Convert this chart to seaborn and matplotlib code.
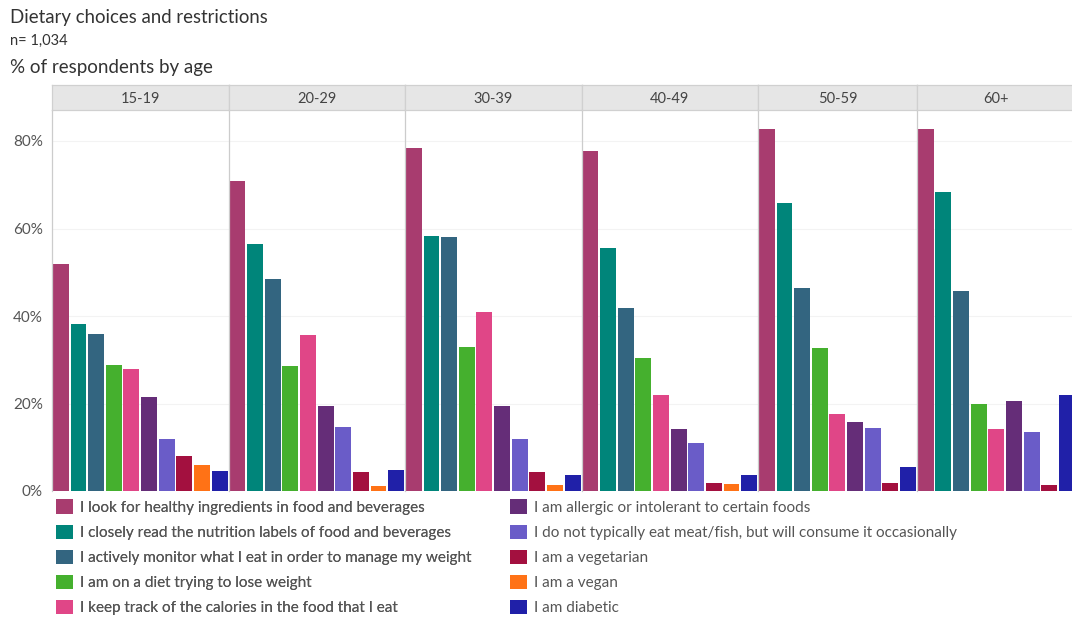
import matplotlib
matplotlib.use("Agg")
import matplotlib.pyplot as plt
import seaborn as sns
import pandas as pd
from matplotlib.patches import Patch

sns.set_style("white")
plt.rcParams['font.family'] = ['Lato', 'DejaVu Sans']

ages = ["15-19", "20-29", "30-39", "40-49", "50-59", "60+"]
items = [
    "I look for healthy ingredients in food and beverages",
    "I closely read the nutrition labels of food and beverages",
    "I actively monitor what I eat in order to manage my weight",
    "I am on a diet trying to lose weight",
    "I keep track of the calories in the food that I eat",
    "I am allergic or intolerant to certain foods",
    "I do not typically eat meat/fish, but will consume it occasionally",
    "I am a vegetarian",
    "I am a vegan",
    "I am diabetic",
]
colors = ["#a83c6f", "#00857a", "#336580", "#45b02e", "#e04687",
          "#652d78", "#6a5cc8", "#a3103f", "#ff7216", "#2020a8"]

healthy = [52.0, 70.9, 78.3, 77.8, 82.8, 82.8]
labels_read = [38.1, 56.5, 58.3, 55.6, 65.8, 68.3]
monitor = [35.9, 48.5, 58.0, 41.8, 46.3, 45.8]
diet = [28.8, 28.6, 33.0, 30.5, 32.8, 20.0]
calories = [27.9, 35.6, 41.0, 22.0, 17.5, 14.1]
allergic = [21.4, 19.4, 19.5, 14.1, 15.8, 20.6]
flexitarian = [11.8, 14.6, 11.8, 11.0, 14.3, 13.6]
vegetarian = [8.1, 4.4, 4.4, 1.9, 1.9, 1.3]
vegan = [5.9, 1.1, 1.4, 1.7, None, None]
diabetic = [4.5, 4.8, 3.7, 3.7, 5.6, 22.0]

series = [healthy, labels_read, monitor, diet, calories, allergic,
          flexitarian, vegetarian, vegan, diabetic]

rows = []
for item, vals in zip(items, series):
    for age, v in zip(ages, vals):
        if v is not None:
            rows.append({"age": age, "item": item, "value": v})
df = pd.DataFrame(rows)
palette = dict(zip(items, colors))

W, H = 1072, 619
fig = plt.figure(figsize=(W / 100, H / 100), dpi=100)

slot = 17.65
x0 = 52
plot_top, plot_bot, head_top = 110, 491, 85
ymax = (plot_bot - plot_top) / 4.375

for i, age in enumerate(ages):
    sub = df[df["age"] == age]
    present = [it for it in items if it in set(sub["item"])]
    n = len(present)
    wpx = n * slot
    ax = fig.add_axes([x0 / W, 1 - plot_bot / H, wpx / W, (plot_bot - plot_top) / H])
    sns.barplot(data=sub, x="item", y="value", hue="item", order=present,
                hue_order=present, palette=palette, dodge=False, legend=False,
                width=0.9, saturation=1, ax=ax, linewidth=0, errorbar=None)
    ax.set_xlim(-0.5, n - 0.5)
    ax.set_ylim(0, ymax)
    ax.set_xticks([])
    ax.set_xlabel("")
    ax.set_ylabel("")
    ax.set_yticks([0, 20, 40, 60, 80])
    if i == 0:
        ax.set_yticklabels(["0%", "20%", "40%", "60%", "80%"], fontsize=11, color="#555555")
    else:
        ax.set_yticklabels([])
    ax.tick_params(axis="y", length=0, pad=6.5)
    ax.yaxis.grid(True, color="#f3f3f3", linewidth=0.8)
    ax.set_axisbelow(True)
    for s in ["top", "bottom", "right"]:
        ax.spines[s].set_visible(False)
    ax.spines["left"].set_color("#cccccc")
    ax.spines["left"].set_linewidth(0.9)

    hax = fig.add_axes([x0 / W, 1 - plot_top / H, wpx / W, (plot_top - head_top) / H])
    hax.set_facecolor("#e6e6e6")
    hax.set_xticks([])
    hax.set_yticks([])
    for s in hax.spines.values():
        s.set_color("#d0d0d0")
        s.set_linewidth(0.9)
    hax.text(0.5, 0.45, age, ha="center", va="center", fontsize=10.5,
             color="#444444", transform=hax.transAxes)
    x0 += wpx

fig.text(10 / W, 1 - 18 / H, "Dietary choices and restrictions", fontsize=13.4,
         color="#333333", va="center", ha="left")
fig.text(10 / W, 1 - 41 / H, "n= 1,034", fontsize=10.5, color="#333333",
         va="center", ha="left")
fig.text(10 / W, 1 - 68 / H, "% of respondents by age", fontsize=13.5,
         color="#333333", va="center", ha="left")

handles = [Patch(facecolor=c, edgecolor="none") for c in colors]
common = dict(frameon=False, fontsize=11, handlelength=1.1, handleheight=1.1,
              handletextpad=0.45, labelspacing=0.62, borderaxespad=0, borderpad=0,
              loc="upper left", labelcolor="#555555")
leg1 = fig.legend(handles[:5], items[:5], bbox_to_anchor=(56 / W, 1 - 499.5 / H), **common)
fig.add_artist(leg1)
fig.legend(handles[5:], items[5:], bbox_to_anchor=(510 / W, 1 - 499.5 / H), **common)

fig.savefig("out.png", dpi=100)
